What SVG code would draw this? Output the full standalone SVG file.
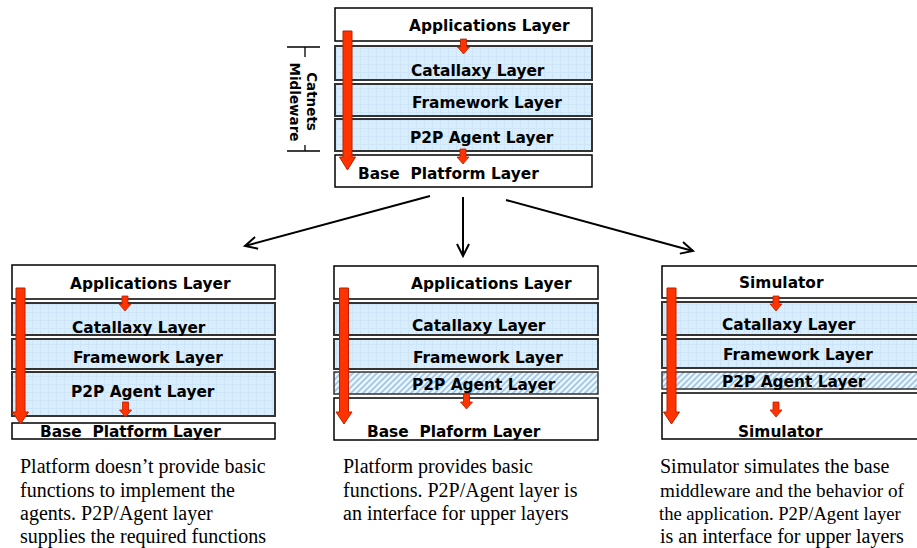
<svg xmlns="http://www.w3.org/2000/svg" width="917" height="548" viewBox="0 0 917 548">
<style>
  .lbl{font-family:"DejaVu Sans","Verdana",sans-serif;font-weight:bold;font-size:15.4px;fill:#000}
  .cap{font-family:"Liberation Serif","Times New Roman",serif;font-size:20px;fill:#000}
  .side{font-family:"DejaVu Sans","Verdana",sans-serif;font-weight:bold;font-size:13.5px;fill:#000}
  .wbox{fill:#fff;stroke:#000;stroke-width:1.5}
  .bbox{fill:url(#grid);stroke:#333;stroke-width:2}
  .hbox{fill:url(#hatch);stroke:#333;stroke-width:1.5}
  .big{fill:#ff3300;stroke:#b82000;stroke-width:1}
  .conn{stroke:#000;stroke-width:2;fill:none;marker-end:url(#open)}
  .brk{stroke:#000;stroke-width:1.3;fill:none}
</style>
<defs>
  <pattern id="grid" width="8" height="8" patternUnits="userSpaceOnUse">
    <rect width="8" height="8" fill="#d9eefc"/>
    <path d="M0,0.5 H8 M0.5,0 V8" stroke="#cde5f6" stroke-width="1"/>
  </pattern>
  <pattern id="hatch" width="6" height="6" patternUnits="userSpaceOnUse">
    <rect width="6" height="6" fill="#eef6fd"/>
    <path d="M-1,7 L7,-1 M-4,4 L4,-4 M2,10 L10,2" stroke="#9fc5e6" stroke-width="1.6"/>
  </pattern>
  <marker id="open" markerUnits="userSpaceOnUse" markerWidth="16" markerHeight="16" refX="13" refY="7" orient="auto">
    <path d="M1,1 L13,7 L1,13" fill="none" stroke="#000" stroke-width="2"/>
  </marker>
  <path id="sarrow" d="M-3,0 H3 V8 H6 L0,15 L-6,8 H-3 Z" fill="#ff3300" stroke="#b82000" stroke-width="0.8"/>
</defs>

<!-- Top stack -->
<g id="top-stack">
  <g id="top-app"><rect class="wbox" x="335" y="8" width="257" height="33"/><text class="lbl" x="409" y="31">Applications Layer</text></g>
  <g id="top-cat"><rect class="bbox" x="335" y="46" width="257" height="34"/><text class="lbl" x="411" y="76">Catallaxy Layer</text></g>
  <g id="top-fw"><rect class="bbox" x="335" y="84" width="257" height="32"/><text class="lbl" x="412" y="108">Framework Layer</text></g>
  <g id="top-p2p"><rect class="bbox" x="335" y="119" width="257" height="32"/><text class="lbl" x="410" y="143">P2P Agent Layer</text></g>
  <g id="top-base"><rect class="wbox" x="335" y="155" width="257" height="32"/><text class="lbl" x="358" y="179">Base&#160; Platform Layer</text></g>
  <path class="big" d="M343,31 H352 V157 H355.5 L347.5,170 L339.5,157 H343 Z"/>
  <use href="#sarrow" x="463.5" y="39"/>
  <use href="#sarrow" x="463" y="149"/>
  <g id="bracket">
    <path class="brk" d="M287,47 H320 M305,47 V57 M287,151 H320 M305,151 V145"/>
    <text class="side" transform="translate(307,101.5) rotate(90)" text-anchor="middle">Catnets</text>
    <text class="side" transform="translate(290,102) rotate(90)" text-anchor="middle">Midleware</text>
  </g>
</g>

<!-- Connectors -->
<g id="connectors">
  <line class="conn" x1="430" y1="196" x2="245" y2="246"/>
  <line class="conn" x1="463" y1="197" x2="463" y2="256"/>
  <line class="conn" x1="506" y1="200" x2="693" y2="251"/>
</g>

<!-- Bottom left stack -->
<g id="left-stack">
  <g id="l-app"><rect class="wbox" x="12" y="265" width="263" height="34"/><text class="lbl" x="70" y="289">Applications Layer</text></g>
  <g id="l-cat"><rect class="bbox" x="12" y="303" width="263" height="32"/><text class="lbl" x="72" y="333">Catallaxy Layer</text></g>
  <g id="l-fw"><rect class="bbox" x="12" y="339" width="263" height="30"/><text class="lbl" x="73" y="363">Framework Layer</text></g>
  <g id="l-p2p"><rect class="bbox" x="12" y="372" width="263" height="44"/><text class="lbl" x="71" y="397">P2P Agent Layer</text></g>
  <g id="l-base"><rect class="wbox" x="12" y="423" width="263" height="16"/><text class="lbl" x="40" y="437">Base&#160; Platform Layer</text></g>
  <path class="big" d="M16,288 H25 V412 H28.5 L20.5,424 L12.5,412 H16 Z"/>
  <use href="#sarrow" x="125" y="296"/>
  <use href="#sarrow" x="125.5" y="402"/>
</g>

<!-- Bottom middle stack -->
<g id="mid-stack">
  <g id="m-app"><rect class="wbox" x="334" y="266" width="264" height="33"/><text class="lbl" x="411" y="289">Applications Layer</text></g>
  <g id="m-cat"><rect class="bbox" x="334" y="303" width="264" height="32"/><text class="lbl" x="412" y="331">Catallaxy Layer</text></g>
  <g id="m-fw"><rect class="bbox" x="334" y="339" width="264" height="30"/><text class="lbl" x="413" y="363">Framework Layer</text></g>
  <g id="m-p2p"><rect class="hbox" x="334" y="372" width="264" height="22"/><text class="lbl" x="412" y="390">P2P Agent Layer</text></g>
  <g id="m-base"><rect class="wbox" x="334" y="398" width="264" height="42"/><text class="lbl" x="367" y="437">Base&#160; Plaform Layer</text></g>
  <path class="big" d="M339.5,288 H348.5 V412 H352 L344,424 L336,412 H339.5 Z"/>
  <use href="#sarrow" x="466.5" y="394"/>
</g>

<!-- Bottom right stack -->
<g id="right-stack">
  <g id="r-sim1"><rect class="wbox" x="662" y="266" width="262" height="32"/><text class="lbl" x="739" y="288">Simulator</text></g>
  <g id="r-cat"><rect class="bbox" x="662" y="302" width="262" height="33"/><text class="lbl" x="722" y="330">Catallaxy Layer</text></g>
  <g id="r-fw"><rect class="bbox" x="662" y="339" width="262" height="29"/><text class="lbl" x="723" y="360">Framework Layer</text></g>
  <g id="r-p2p"><rect class="hbox" x="662" y="372" width="262" height="17"/><text class="lbl" x="722" y="387">P2P Agent Layer</text></g>
  <g id="r-sim2"><rect class="wbox" x="662" y="393" width="262" height="46"/><text class="lbl" x="738" y="437">Simulator</text></g>
  <path class="big" d="M667,288 H676 V412 H679.5 L671.5,424 L663.5,412 H667 Z"/>
  <use href="#sarrow" x="776" y="296"/>
  <use href="#sarrow" x="776" y="402"/>
</g>

<!-- Captions -->
<g id="caption-left">
  <text class="cap" x="20" y="473">Platform doesn’t provide basic</text>
  <text class="cap" x="20" y="497">functions to implement the</text>
  <text class="cap" x="20" y="520">agents. P2P/Agent layer</text>
  <text class="cap" x="20" y="543">supplies the required functions</text>
</g>
<g id="caption-mid">
  <text class="cap" x="343" y="473">Platform provides basic</text>
  <text class="cap" x="343" y="497">functions. P2P/Agent layer is</text>
  <text class="cap" x="343" y="520">an interface for upper layers</text>
</g>
<g id="caption-right">
  <text class="cap" x="660" y="473">Simulator simulates the base</text>
  <text class="cap" x="660" y="497" style="font-size:19.2px">middleware and the behavior of</text>
  <text class="cap" x="659" y="520" style="font-size:18.6px">the application. P2P/Agent layer</text>
  <text class="cap" x="660" y="543">is an interface for upper layers</text>
</g>
</svg>
